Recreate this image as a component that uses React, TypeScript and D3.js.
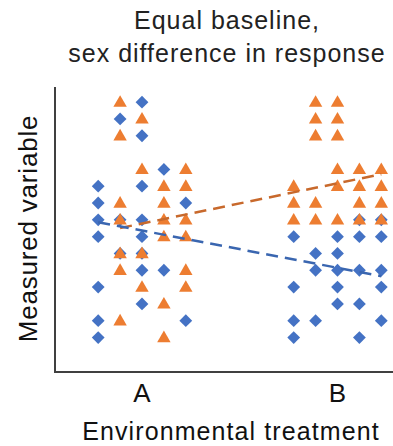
import React from "react";
import * as d3 from "d3";

// Treatment groups on the x axis
const treatments = ["A", "B"];
// Horizontal slots used to spread points within each treatment
const columnSlots = [-2, -1, 0, 1, 2];

// Measured values per slot (index matches columnSlots) — diamond series
const diamondA = [[9, 8, 7, 6, 3, 1, 0], [13, 7, 5], [14, 12, 9, 7, 6, 5, 4, 2], [10, 4], [8, 1]];
const diamondB = [[6, 3, 1, 0], [5, 4, 1], [6, 5, 4, 3, 2], [7, 6, 4, 2, 0], [7, 6, 4, 3, 1]];
// Triangle series
const triangleA = [[], [14, 12, 8, 7, 5, 4, 1], [13, 10, 5, 3], [9, 8, 7, 6, 2, 0], [10, 9, 7, 6, 4, 3]];
const triangleB = [[9, 8, 7], [14, 13, 12, 8, 7], [14, 13, 12, 10, 9, 7], [10, 9, 8, 7], [10, 9, 8, 7]];

// Trend lines: [start value at A, end value at B] and the slots they span
const diamondTrend = [6.86, 3.65];
const diamondTrendSlots = [-2, 2];
const triangleTrend = [6.51, 9.71];
const triangleTrendSlots = [-1, 2];

const W = 393;
const H = 446;
const plot = { left: 55, top: 87, bottom: 372, right: 424.5 };
const slotStep = 21.9;

const BLUE = "#4472C4";
const ORANGE = "#ED7D31";
const BLUE_LINE = "#3A66B0";
const ORANGE_LINE = "#C8692C";
const FONT = "'Liberation Sans', Arial, Helvetica, sans-serif";

type Pt = { x: number; y: number };

export default function App() {
  const x = d3.scalePoint<string>().domain(treatments).range([plot.left, plot.right]).padding(0.445);
  const y = d3.scaleLinear().domain([-2.05, 14.9]).range([plot.bottom, plot.top]);

  const toPoints = (byTreatment: number[][][]): Pt[] =>
    byTreatment.flatMap((cols, ti) =>
      cols.flatMap((vals, ci) =>
        vals.map((v) => ({ x: (x(treatments[ti]) as number) + columnSlots[ci] * slotStep, y: y(v) }))
      )
    );

  const diamonds = toPoints([diamondA, diamondB]);
  const triangles = toPoints([triangleA, triangleB]);

  const diamondPath = d3.symbol(d3.symbolSquare, 82)() as string;
  const trianglePath = d3.symbol(d3.symbolTriangle, 78)() as string;

  const trend = (vals: number[], slots: number[]) =>
    d3.line<[number, number]>()([
      [(x(treatments[0]) as number) + slots[0] * slotStep, y(vals[0])],
      [(x(treatments[1]) as number) + slots[1] * slotStep, y(vals[1])],
    ]) as string;

  return (
    <svg width={W} height={H} style={{ position: "absolute", left: 0, top: 0 }} fontFamily={FONT}>
      <rect width={W} height={H} fill="#fff" />
      <text x={227} y={29} textAnchor="middle" fontSize={25} letterSpacing={1} fill="#222">
        Equal baseline,
      </text>
      <text x={227} y={62} textAnchor="middle" fontSize={25} letterSpacing={1} fill="#222">
        sex difference in response
      </text>

      {diamonds.map((p, i) => (
        <path key={"d" + i} d={diamondPath} transform={`translate(${p.x},${p.y}) rotate(45)`} fill={BLUE} />
      ))}
      {triangles.map((p, i) => (
        <path key={"t" + i} d={trianglePath} transform={`translate(${p.x},${p.y + 0.8})`} fill={ORANGE} />
      ))}

      <path d={trend(triangleTrend, triangleTrendSlots)} stroke={ORANGE_LINE} strokeWidth={2.5} strokeDasharray="12 7" fill="none" />
      <path d={trend(diamondTrend, diamondTrendSlots)} stroke={BLUE_LINE} strokeWidth={2.5} strokeDasharray="12 7" fill="none" />

      <path
        d={`M${plot.left},${plot.top}V${plot.bottom}H${W}`}
        fill="none"
        stroke="#404040"
        strokeWidth={2}
      />

      {treatments.map((t) => (
        <text key={t} x={x(t) as number} y={402} textAnchor="middle" fontSize={26} fill="#111">
          {t}
        </text>
      ))}
      <text x={231} y={440} textAnchor="middle" fontSize={25} letterSpacing={1.1} fill="#111">
        Environmental treatment
      </text>
      <text
        transform={`translate(37,228.5) rotate(-90)`}
        textAnchor="middle"
        fontSize={26}
        letterSpacing={0.8}
        fill="#111"
      >
        Measured variable
      </text>
    </svg>
  );
}
